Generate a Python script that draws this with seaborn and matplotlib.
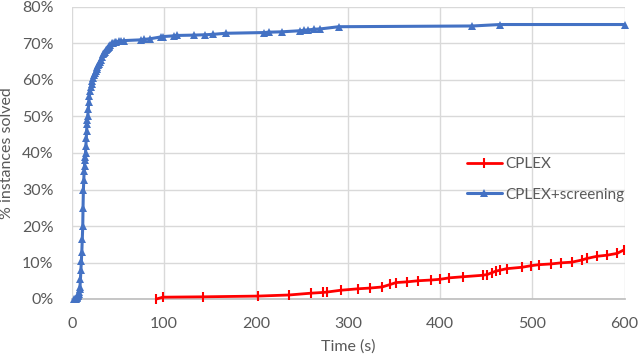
import matplotlib
matplotlib.use("Agg")
import matplotlib.pyplot as plt
import seaborn as sns
import pandas as pd

# CPLEX (red)
cplex_t = [92, 99, 143, 202, 236, 260, 273, 277, 292, 311, 324, 337, 346, 352, 364, 376,
           390, 400, 410, 425, 446, 451, 456, 460, 465, 472, 489, 498, 507, 520, 531, 543,
           554, 559, 570, 581, 592, 599]
cplex_v = [0.0, 0.5, 0.6, 0.8, 1.1, 1.6, 1.8, 1.9, 2.4, 2.8, 3.0, 3.3, 4.0, 4.5, 4.7, 5.0,
           5.2, 5.4, 5.8, 6.1, 6.5, 6.7, 7.2, 7.6, 7.9, 8.3, 8.7, 9.1, 9.4, 9.6, 9.9, 10.1,
           10.7, 11.1, 11.7, 12.0, 12.5, 13.4]

# CPLEX+screening (blue)
scr_t = [3, 4, 5, 5.5, 6, 6.5, 7, 7.5, 8, 8.5, 9, 9.5, 10, 10.5, 11, 11.5, 12, 12.3, 12.7,
         13.1, 13.5, 13.9, 14.2, 14.6, 15, 15.4, 15.8, 16.2, 16.6, 17, 17.4, 18, 18.5, 19.2,
         20, 20.7, 21.5, 22.2, 23, 24, 25, 26, 27, 28, 29, 30, 31, 32, 33, 34, 35, 36, 37,
         38, 39, 40, 41, 42, 43.5, 45, 46.5, 48, 51, 54, 57, 75, 78, 85, 97,
         99, 111, 114, 133, 145, 153, 167, 209, 214, 228, 248, 252, 256, 263, 270, 290,
         435, 465, 600]
scr_v = [0, 0, 0, 0.3, 0.5, 0.8, 1, 1.5, 2, 2.7, 3.4, 5.5, 8, 10.5, 13, 16.5, 20, 25, 30,
         32.5, 35, 36.5, 38, 39, 40, 42, 44, 46, 48, 49, 50, 52, 54, 55.5,
         57, 58, 59, 59.8, 60.5, 61.3, 62, 62.5, 63, 63.5, 64, 64.5, 65, 65.6, 66.2, 67, 67.4, 67.8, 68.2,
         68.5, 68.8, 69, 69.4, 69.7, 70.0, 70.2, 70.3, 70.4, 70.6, 70.7, 70.8,
         71.0, 71.1, 71.3, 71.8, 71.9, 72.1, 72.2, 72.3, 72.4, 72.5, 72.8, 73.0, 73.1, 73.2,
         73.5, 73.6, 73.7, 73.9, 74.0, 74.6, 74.8, 75.2, 75.2]

x_ticks = [0, 100, 200, 300, 400, 500, 600]
y_ticks = [0, 10, 20, 30, 40, 50, 60, 70, 80]

sns.set_theme(style="white")
plt.rcParams['font.family'] = ['Lato', 'DejaVu Sans']

fig = plt.figure(figsize=(6.4, 3.61), dpi=100)
ax = fig.add_axes([71.7/640, 1-299/361, (624.5-71.7)/640, (299-7)/361])

df_c = pd.DataFrame({"t": cplex_t, "v": cplex_v})
df_s = pd.DataFrame({"t": scr_t, "v": scr_v})

grey = "#595959"
sns.lineplot(data=df_c, x="t", y="v", ax=ax, color="#ff0000", lw=2, marker="|",
             markersize=7, markeredgewidth=1.5, markeredgecolor="#ff0000", label="CPLEX",
             clip_on=False, zorder=3)
sns.lineplot(data=df_s, x="t", y="v", ax=ax, color="#4472c4", lw=2.2, marker="^",
             markersize=6, markeredgewidth=0, label="CPLEX+screening", clip_on=False,
             zorder=4)

ax.set_xlim(0, 600)
ax.set_ylim(0, 80)
ax.set_xticks(x_ticks)
ax.set_yticks(y_ticks)
ax.set_yticklabels([f"{v}%" for v in y_ticks])
ax.grid(True, color="#d9d9d9", lw=1)
for s in ["top", "right", "left"]:
    ax.spines[s].set_visible(False)
ax.spines["bottom"].set_color("#bfbfbf")
ax.tick_params(axis="both", colors=grey, labelsize=11.5, length=0)
ax.tick_params(axis="x", pad=13)
ax.tick_params(axis="y", pad=13)
ax.set_xlabel("Time (s)", color=grey, fontsize=11.5, labelpad=6)
ax.set_ylabel("% instances solved", color=grey, fontsize=11.5, labelpad=6)

leg = ax.legend(loc="center left", bbox_to_anchor=(0.69, 0.41), frameon=False,
                fontsize=11, handlelength=2.3, labelspacing=1.1, handletextpad=0.2)
for t in leg.get_texts():
    t.set_color(grey)

fig.savefig("out.png", dpi=100)
